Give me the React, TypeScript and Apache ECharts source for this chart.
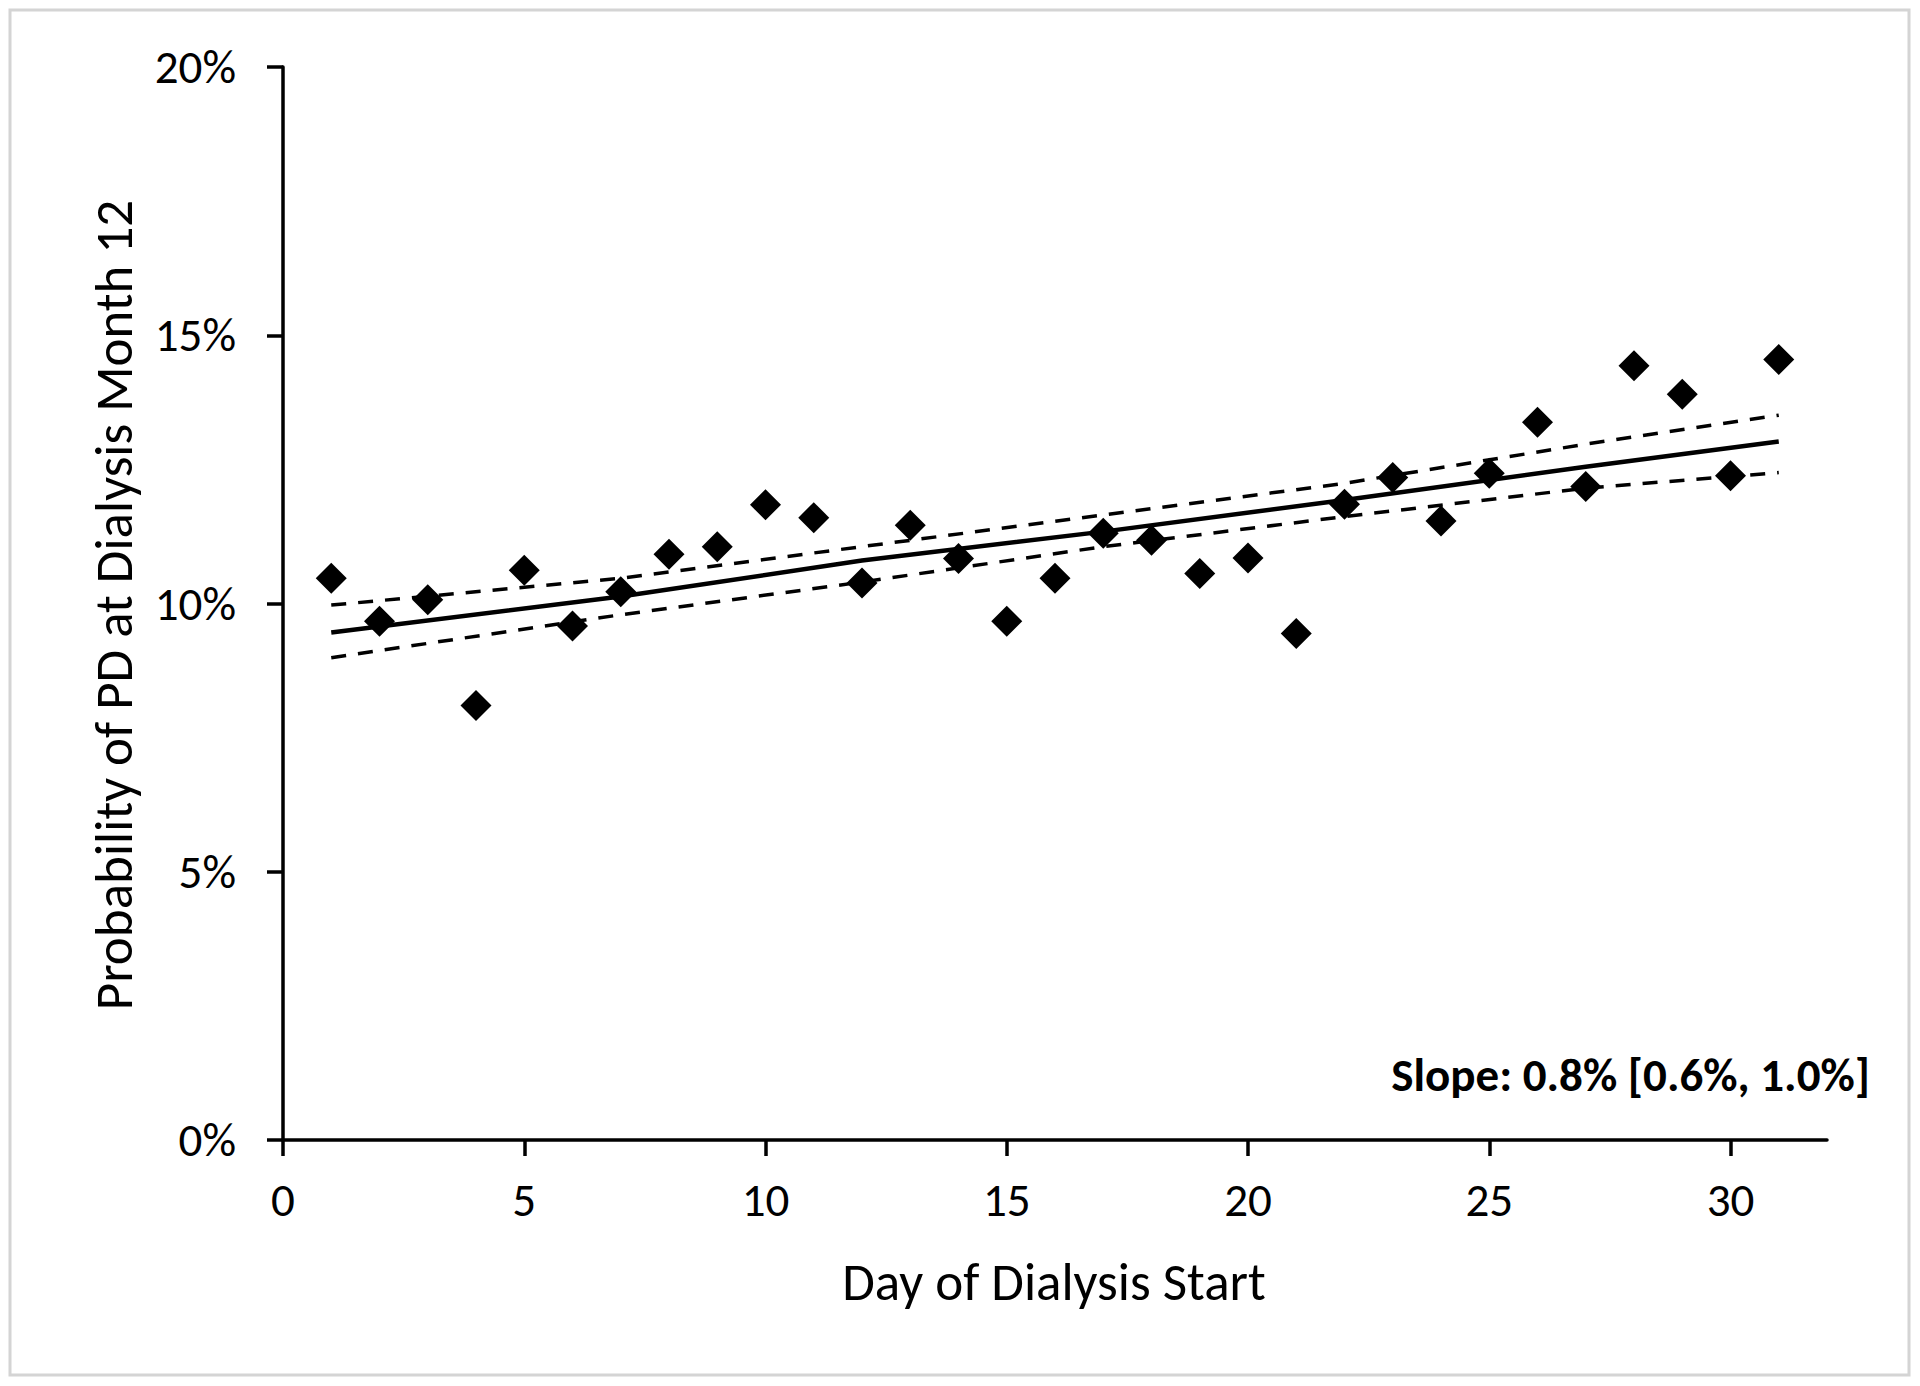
import { useEffect, useRef } from "react";
import * as echarts from "echarts";

const days = [1, 2, 3, 4, 5, 6, 7, 8, 9, 10, 11, 12, 13, 14, 15, 16, 17, 18, 19, 20, 21, 22, 23, 24, 25, 26, 27, 28, 29, 30, 31];
const probability = [10.47, 9.67, 10.07, 8.1, 10.62, 9.58, 10.22, 10.92, 11.06, 11.84, 11.6, 10.38, 11.46, 10.84, 9.67, 10.47, 11.31, 11.18, 10.56, 10.85, 9.44, 11.85, 12.35, 11.54, 12.43, 13.38, 12.18, 14.43, 13.9, 12.38, 14.55];

const trendDays = [1, 7, 12, 17, 22, 27, 31];
const fitted = [9.46, 10.13, 10.8, 11.34, 11.93, 12.55, 13.02];
const upperCI = [9.97, 10.47, 11.06, 11.65, 12.24, 12.97, 13.51];
const lowerCI = [8.99, 9.79, 10.4, 11.06, 11.62, 12.15, 12.44];

const xTicks = [0, 5, 10, 15, 20, 25, 30];

const xTitle = "Day of Dialysis Start";
const yTitle = "Probability of PD at Dialysis Month 12";
const slopeText = "Slope: 0.8% [0.6%, 1.0%]";

const FONT = "Carlito, Lato, sans-serif";

export default function App() {
  const ref = useRef<HTMLDivElement>(null);
  useEffect(() => {
    document.body.style.margin = "0";
    const chart = echarts.init(ref.current!, null, { renderer: "svg" });
    const pair = (xs: number[], ys: number[]) => xs.map((x, i) => [x, ys[i]]);
    chart.setOption({
      animation: false,
      backgroundColor: "#ffffff",
      textStyle: { fontFamily: FONT, color: "#000" },
      grid: { left: 283, top: 67, right: 93, bottom: 246, containLabel: false },
      xAxis: {
        type: "value",
        min: 0,
        max: 32,
        interval: 5,
        splitLine: { show: false },
        axisLine: { show: true, onZero: false, lineStyle: { color: "#000", width: 3.5 } },
        axisTick: { show: true, length: 16, lineStyle: { color: "#000", width: 3.5 }, customValues: xTicks },
        axisLabel: { fontSize: 47, color: "#000", margin: 36, fontFamily: FONT, customValues: xTicks },
      },
      yAxis: {
        type: "value",
        min: 0,
        max: 20,
        interval: 5,
        splitLine: { show: false },
        axisLine: { show: true, lineStyle: { color: "#000", width: 3.5 } },
        axisTick: { show: true, length: 16, lineStyle: { color: "#000", width: 3.5 } },
        axisLabel: { fontSize: 47, color: "#000", margin: 47, fontFamily: FONT, formatter: "{value}%" },
      },
      series: [
        {
          type: "line",
          data: pair(trendDays, upperCI),
          symbol: "none",
          lineStyle: { color: "#000", width: 3.5, type: [15, 12] },
          z: 2,
        },
        {
          type: "line",
          data: pair(trendDays, lowerCI),
          symbol: "none",
          lineStyle: { color: "#000", width: 3.5, type: [15, 12] },
          z: 2,
        },
        {
          type: "line",
          data: pair(trendDays, fitted),
          symbol: "none",
          lineStyle: { color: "#000", width: 4.5 },
          z: 3,
        },
        {
          type: "scatter",
          data: pair(days, probability),
          symbol: "diamond",
          symbolSize: 31,
          itemStyle: { color: "#000", opacity: 1 },
          z: 4,
        },
      ],
      graphic: [
        {
          type: "rect",
          shape: { x: 10, y: 10, width: 1899, height: 1365 },
          style: { fill: "none", stroke: "#d4d4d4", lineWidth: 3 },
          silent: true,
        },
        {
          type: "text",
          x: 114,
          y: 605,
          rotation: Math.PI / 2,
          style: { text: yTitle, fontSize: 53, fontFamily: FONT, fill: "#000", align: "center", verticalAlign: "middle" },
        },
        {
          type: "text",
          x: 1054,
          y: 1282,
          style: { text: xTitle, fontSize: 53, fontFamily: FONT, fill: "#000", align: "center", verticalAlign: "middle" },
        },
        {
          type: "text",
          x: 1870,
          y: 1075,
          style: { text: slopeText, fontSize: 47, fontWeight: "bold", fontFamily: FONT, fill: "#000", align: "right", verticalAlign: "middle" },
        },
      ],
    });
    return () => chart.dispose();
  }, []);
  return <div ref={ref} style={{ width: 1920, height: 1386, background: "#fff" }} />;
}
